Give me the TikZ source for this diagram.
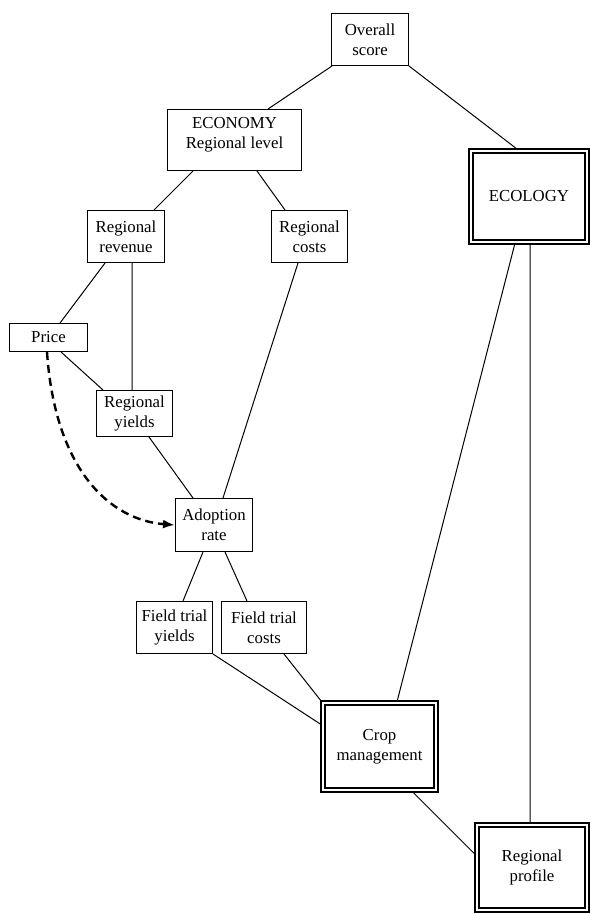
\documentclass[tikz,border=0pt]{standalone}
\usepackage{fontspec}
\setmainfont{Liberation Serif}
\usepackage{tikz}
\usetikzlibrary{positioning,arrows.meta}

\begin{document}
\begin{tikzpicture}[x=1pt,y=-1pt]
    % Setup the style for the boxes
        \tikzset{box style/.style={draw,
                                   rectangle,
                                   align=center,
                                   inner sep=2pt,
                                   line width=1pt,
                                   font=\fontsize{16.8}{20}\selectfont},
                 double style/.style={box style,
                                      double,
                                      line width=2.4pt,
                                      double distance=1.4pt},
                 edge style/.style={line width=1pt}}
        \useasboundingbox (0,0) rectangle (591,914);
        % Draw the boxes
        \node[box style, minimum width=77pt, minimum height=52pt] at (370,39.5) (overall) {Overall\\score};
        \node[box style, minimum width=134pt, minimum height=61pt, text depth=13.5pt] at (234.5,140) (economy) {ECONOMY\\Regional level};
        \node[double style, minimum width=116pt, minimum height=91pt] at (529,196.5) (ecology) {ECOLOGY};
        \node[box style, minimum width=77pt, minimum height=52pt] at (126,236.5) (rrev) {Regional\\revenue};
        \node[box style, minimum width=76pt, minimum height=52pt] at (309.5,236.5) (rcost) {Regional\\costs};
        \node[box style, minimum width=78pt, minimum height=28pt] at (48.5,337.5) (price) {Price};
        \node[box style, minimum width=76pt, minimum height=46pt] at (134.5,413.5) (ryields) {Regional\\yields};
        \node[box style, minimum width=77pt, minimum height=53pt] at (214,525) (adoption) {Adoption\\rate};
        \node[box style, minimum width=76pt, minimum height=52pt] at (174.5,627.5) (fty) {Field trial\\yields};
        \node[box style, minimum width=85pt, minimum height=52pt] at (264,627.5) (ftc) {Field trial\\costs};
        \node[double style, minimum width=113pt, minimum height=87pt] at (379.5,746.5) (crop) {Crop\\management};
        \node[double style, minimum width=110pt, minimum height=85pt] at (532,867.5) (rprof) {Regional\\profile};
        % Connect the boxes
        \draw[edge style]
            ([xshift=-38pt]overall.south)   -- ([xshift=33.5pt]economy.north)
            (overall.south east)            -- ([xshift=-11pt]ecology.north)
            ([xshift=-41.5pt]economy.south) -- ([xshift=28pt]rrev.north)
            ([xshift=22.5pt]economy.south)  -- ([xshift=-24.5pt]rcost.north)
            ([xshift=-21pt]rrev.south)      -- ([xshift=11.5pt]price.north)
            ([xshift=6pt]rrev.south)        -- ([xshift=-2.5pt]ryields.north)
            ([xshift=12.5pt]price.south)    -- ([xshift=-31.5pt]ryields.north)
            ([xshift=14.5pt]ryields.south)  -- ([xshift=-21pt]adoption.north)
            ([xshift=-11.5pt]rcost.south)   -- ([xshift=9pt]adoption.north)
            ([xshift=-11pt]adoption.south)  -- ([xshift=8.5pt]fty.north)
            ([xshift=11pt]adoption.south)   -- ([xshift=-17pt]ftc.north)
            (fty.south east)                -- ([yshift=21.5pt]crop.west)
            ([xshift=20pt]ftc.south)        -- (crop.north west)
            ([xshift=-14pt]ecology.south)   -- ([xshift=17.5pt]crop.north)
            ([xshift=1pt]ecology.south)     -- ([xshift=-2pt]rprof.north)
            ([xshift=32.5pt]crop.south)     -- ([yshift=12.5pt]rprof.west);
        % Price feeds the adoption rate
        \draw[-{Latex[length=12pt,width=9pt]}, line width=2.4pt, dash pattern=on 8pt off 5pt]
            ([xshift=-1.5pt]price.south) .. controls (55,470) and (110,520) .. (adoption.west);
\end{tikzpicture}
\end{document}
